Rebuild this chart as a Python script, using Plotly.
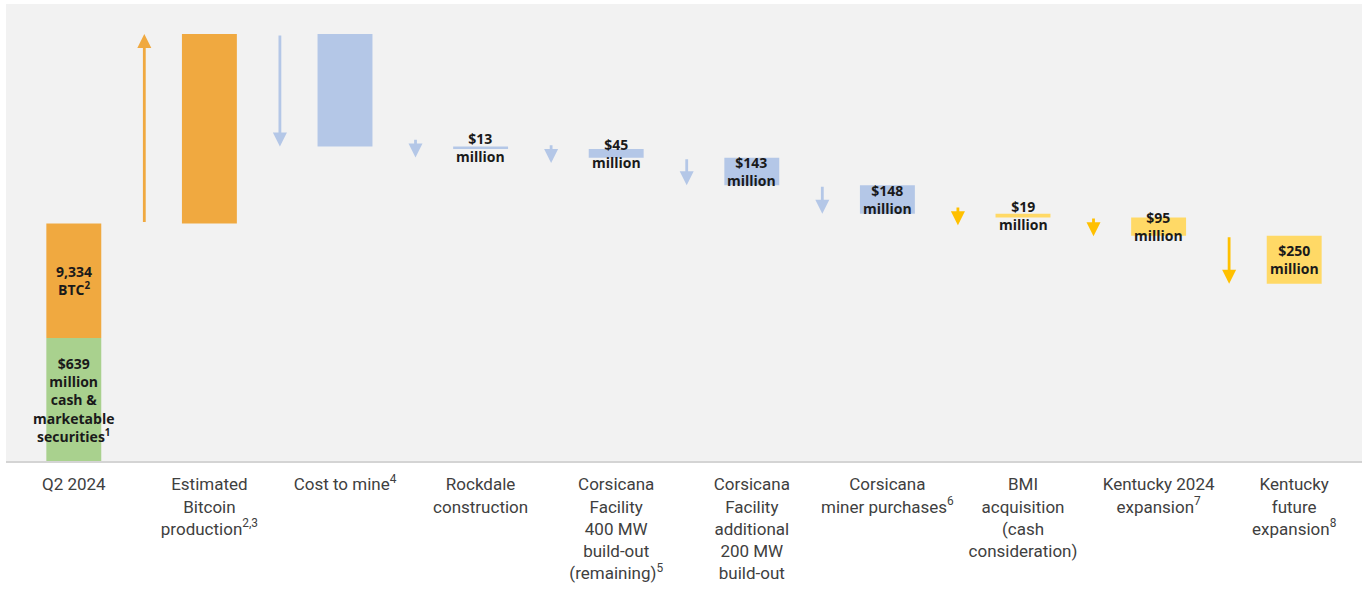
import plotly.graph_objects as go

# ---------------- data ----------------
categories = [
    "Q2 2024",
    "Estimated<br>Bitcoin<br>production<sup>2,3</sup>",
    "Cost to mine<sup>4</sup>",
    "Rockdale<br>construction",
    "Corsicana<br>Facility<br>400 MW<br>build-out<br>(remaining)<sup>5</sup>",
    "Corsicana<br>Facility<br>additional<br>200 MW<br>build-out",
    "Corsicana<br>miner purchases<sup>6</sup>",
    "BMI<br>acquisition<br>(cash<br>consideration)",
    "Kentucky 2024<br>expansion<sup>7</sup>",
    "Kentucky<br>future<br>expansion<sup>8</sup>",
]
q2_cash = 639          # $ million cash & marketable securities
q2_btc_value = 595     # $ million value of 9,334 BTC
changes = [985, -585, -13, -45, -143, -148, -19, -95, -250]   # $ million
bar_labels = ["", "", "$13<br>million", "$45<br>million", "$143<br>million",
              "$148<br>million", "$19<br>million", "$95<br>million", "$250<br>million"]
bar_colors = ["#F0A940", "#B4C7E7", "#B4C7E7", "#B4C7E7", "#B4C7E7",
              "#B4C7E7", "#FFD966", "#FFD966", "#FFD966"]
arrow_colors = ["#F0A940", "#B4C7E7", "#B4C7E7", "#B4C7E7", "#B4C7E7",
                "#B4C7E7", "#FFC000", "#FFC000", "#FFC000"]
q2_cash_label = "$639<br>million<br>cash &<br>marketable<br>securities<sup>1</sup>"
q2_btc_label = "9,334<br>BTC<sup>2</sup>"

GREEN = "#A9D18E"
ORANGE = "#F0A940"
MIN_ARROW = 100      # minimum arrow length in $ million
ARROW_OFFSET = 0.48  # arrow sits this far left of its bar (category units)

# ---------------- waterfall geometry ----------------
level = q2_cash + q2_btc_value
bases, heights = [], []
for ch in changes:
    if ch >= 0:
        bases.append(level)
        heights.append(ch)
        level += ch
    else:
        level += ch
        bases.append(level)
        heights.append(-ch)

fig = go.Figure()
bw = 0.405
fig.add_bar(x=[0], y=[q2_cash], base=[0], width=bw, marker_color=GREEN,
            marker_line_width=0, hoverinfo="skip")
fig.add_bar(x=[0], y=[q2_btc_value], base=[q2_cash], width=bw, marker_color=ORANGE,
            marker_line_width=0, hoverinfo="skip")
xs = list(range(1, len(categories)))
fig.add_bar(x=xs, y=heights, base=bases, width=bw, marker_color=bar_colors,
            marker_line_width=0, hoverinfo="skip")

label_font = dict(family="Open Sans, Roboto, Arial, sans-serif", size=14, color="#1a1a1a", weight="bold")
annotations = [
    dict(x=0, y=q2_cash / 2, text=q2_cash_label, showarrow=False, font=label_font),
    dict(x=0, y=q2_cash + q2_btc_value / 2, text=q2_btc_label, showarrow=False, font=label_font),
]
for i, (b, h, lab, ch, ac) in enumerate(zip(bases, heights, bar_labels, changes, arrow_colors)):
    xi = i + 1
    c = b + h / 2
    if lab:
        annotations.append(dict(x=xi, y=c, text=lab, showarrow=False, font=label_font))
    half = max(h, MIN_ARROW) / 2
    top, bot = c + half, c - half
    tip, tail = (top, bot) if ch > 0 else (bot, top)
    ax_x = xi - ARROW_OFFSET
    annotations.append(dict(
        x=ax_x, y=tip, ax=ax_x, ay=tail, axref="x", ayref="y", xref="x", yref="y",
        showarrow=True, arrowhead=2, arrowsize=1.0, arrowwidth=2.8, arrowcolor=ac,
        standoff=0, startstandoff=0, text=""))

fig.update_layout(
    width=1367, height=592,
    margin=dict(l=6, r=5, t=4, b=131),
    paper_bgcolor="white", plot_bgcolor="#F2F2F2",
    showlegend=False, barmode="overlay",
    annotations=annotations,
    xaxis=dict(range=[-0.5, len(categories) - 0.5], tickvals=list(range(len(categories))),
               ticktext=categories, showgrid=False, zeroline=False,
               showline=True, linecolor="#D4D4D4", linewidth=2, ticks="",
               ticklabelstandoff=7,
               tickfont=dict(family="Roboto, Noto Sans, sans-serif",
                             size=17, color="#404040"),
               fixedrange=True),
    yaxis=dict(range=[0, 2375], visible=False, fixedrange=True),
)

fig.write_html("out.html")
